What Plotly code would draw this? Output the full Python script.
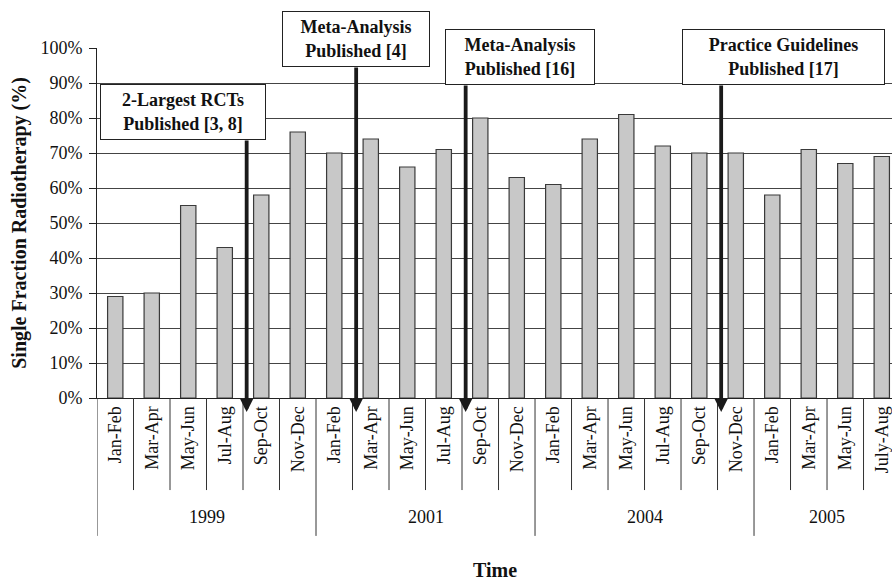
import plotly.graph_objects as go

years = ["1999", "2001", "2004", "2005"]
periods = [
    ["Jan-Feb", "Mar-Apr", "May-Jun", "Jul-Aug", "Sep-Oct", "Nov-Dec"],
    ["Jan-Feb", "Mar-Apr", "May-Jun", "Jul-Aug", "Sep-Oct", "Nov-Dec"],
    ["Jan-Feb", "Mar-Apr", "May-Jun", "Jul-Aug", "Sep-Oct", "Nov-Dec"],
    ["Jan-Feb", "Mar-Apr", "May-Jun", "July-Aug"],
]
values = [
    [29, 30, 55, 43, 58, 76],
    [70, 74, 66, 71, 80, 63],
    [61, 74, 81, 72, 70, 70],
    [58, 71, 67, 69],
]
y_ticks = [0, 10, 20, 30, 40, 50, 60, 70, 80, 90, 100]
y_ticktext = [f"{v}%" for v in y_ticks]

events = [
    "2-Largest RCTs<br>Published [3, 8]",
    "Meta-Analysis<br>Published [4]",
    "Meta-Analysis<br>Published [16]",
    "Practice Guidelines<br>Published [17]",
]
event_pos = [3.6, 6.6, 9.6, 16.6]

FONT = "Liberation Serif, Times New Roman, serif"

labels = [p for grp in periods for p in grp]
vals = [v for grp in values for v in grp]
xs = list(range(len(labels)))

fig = go.Figure()
fig.add_trace(go.Bar(
    x=xs, y=vals, width=0.42,
    marker=dict(color="#c8c8c8", line=dict(color="#3a3a3a", width=1.2)),
    showlegend=False, hoverinfo="y",
))

shapes = []
annotations = []
# separators below the axis
start = 0
for gi, grp in enumerate(periods):
    n = len(grp)
    shapes.append(dict(type="line", xref="x", yref="paper", x0=start - 0.5, x1=start - 0.5,
                       y0=0, y1=-0.394, line=dict(color="#333", width=1)))
    for k in range(1, n):
        shapes.append(dict(type="line", xref="x", yref="paper", x0=start + k - 0.5, x1=start + k - 0.5,
                           y0=0, y1=-0.263, line=dict(color="#333", width=1)))
    annotations.append(dict(text=years[gi], xref="x", yref="paper", x=start + (n - 1) / 2, y=-0.34,
                            xanchor="center", yanchor="middle",
                            showarrow=False, font=dict(family=FONT, size=18, color="#111")))
    start += n
shapes.append(dict(type="line", xref="x", yref="paper", x0=start - 0.5, x1=start - 0.5,
                   y0=0, y1=-0.394, line=dict(color="#333", width=1)))

# arrows
arrow_tails = [-273, -346, -328, -328]
for xp, ay in zip(event_pos, arrow_tails):
    annotations.append(dict(text="", xref="x", yref="paper", x=xp, y=-0.04,
                            ax=0, ay=ay, axref="pixel", ayref="pixel",
                            showarrow=True, arrowhead=2, arrowsize=0.7, arrowwidth=3.8,
                            arrowcolor="#1a1a1a", standoff=0, startstandoff=0))

# boxes
box_x = [1.856, 6.6, 11.09, 18.3]
box_y = [0.817, 1.0257, 0.9757, 0.9757]
box_w = [160, 142, 144, 197]
for t, bx, by, bw in zip(events, box_x, box_y, box_w):
    annotations.append(dict(text="<b>" + t + "</b>", xref="x", yref="paper", x=bx, y=by,
                            xanchor="center", yanchor="middle",
                            showarrow=False, width=bw, height=50, borderpad=2,
                            bgcolor="white", bordercolor="#222", borderwidth=1,
                            font=dict(family=FONT, size=18, color="#111")))

annotations.append(dict(text="<b>Single Fraction Radiotherapy (%)</b>", xref="paper", yref="paper",
                        x=-0.0984, y=0.5, xanchor="center", yanchor="middle",
                        textangle=-90, showarrow=False,
                        font=dict(family=FONT, size=20, color="#111")))
annotations.append(dict(text="<b>Time</b>", xref="paper", yref="paper",
                        x=0.5, y=-(570 - 398) / 350, xanchor="center", yanchor="middle",
                        showarrow=False,
                        font=dict(family=FONT, size=20, color="#111")))

fig.update_layout(
    width=892, height=581,
    margin=dict(l=97, r=0, t=48, b=183),
    plot_bgcolor="white", paper_bgcolor="white",
    shapes=shapes, annotations=annotations,
    font=dict(family=FONT, size=18, color="#111"),
    xaxis=dict(range=[-0.5, 21.28], tickvals=xs, ticktext=labels, tickangle=-90,
               ticks="", showgrid=False, showline=True, linecolor="#222", linewidth=1,
               zeroline=False, tickfont=dict(family=FONT, size=18, color="#111"),
               ticklabeloverflow="allow", fixedrange=True),
    yaxis=dict(range=[0, 100], tickvals=y_ticks, ticktext=y_ticktext, ticks="outside",
               ticklen=7, tickcolor="#222", showline=True, linecolor="#222", linewidth=1,
               showgrid=True, gridcolor="#444", gridwidth=1, zeroline=False,
               ticklabelstandoff=3,
               tickfont=dict(family=FONT, size=18, color="#111"), fixedrange=True),
    bargap=0.58,
)

fig.write_html("out.html", config={"displayModeBar": False},
               post_script="document.body.style.margin='0';document.body.style.overflow='hidden';")
